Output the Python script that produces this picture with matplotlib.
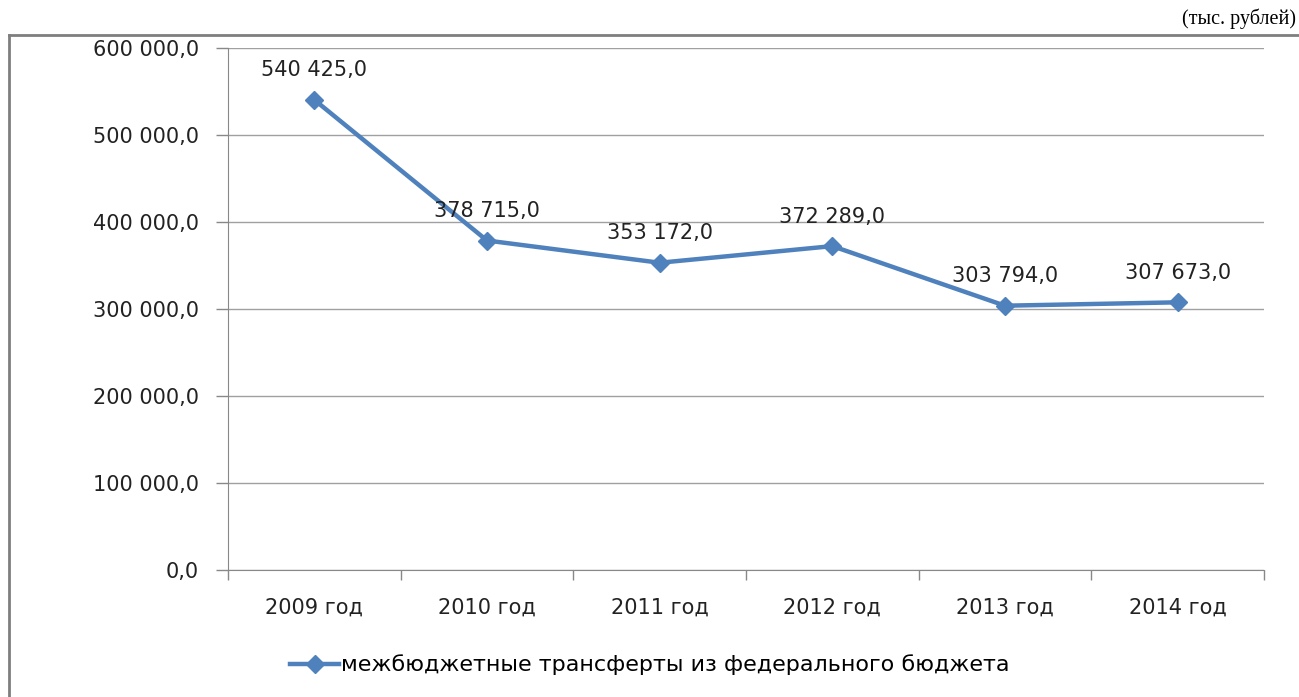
import matplotlib
matplotlib.use("Agg")
import matplotlib.pyplot as plt
from matplotlib.lines import Line2D
from matplotlib.ticker import FuncFormatter, FixedLocator

categories = ["2009 год", "2010 год", "2011 год", "2012 год", "2013 год", "2014 год"]
values = [540425.0, 378715.0, 353172.0, 372289.0, 303794.0, 307673.0]
series_name = "межбюджетные трансферты из федерального бюджета"
unit_label = "(тыс. рублей)"

color = "#4F81BD"
font = "DejaVu Sans"
fs = 15

def fmt(v, pos=None):
    s = f"{v:,.1f}".replace(",", " ").replace(".", ",")
    return s

fig = plt.figure(figsize=(12.99, 6.97), dpi=100)
ax = fig.add_axes([228/1299, 1-570/697, (1264-228)/1299, (570-48)/697])

x = list(range(len(categories)))
ax.plot(x, values, color=color, lw=3.2, marker="D", markersize=9, zorder=3, clip_on=False)
for xi, v in zip(x, values):
    ax.annotate(fmt(v), (xi, v), xytext=(0, 14), textcoords="offset points",
                ha="center", va="bottom", fontsize=fs, family=font, color="#222222")

ax.set_xlim(-0.5, len(categories) - 0.5)
ax.set_ylim(0, 600000)
ax.yaxis.set_major_locator(FixedLocator([i * 100000 for i in range(7)]))
ax.yaxis.set_major_formatter(FuncFormatter(fmt))
ax.set_xticks(x)
ax.set_xticklabels(categories)
ax.set_xticks([i - 0.5 for i in range(len(categories) + 1)], minor=True)
ax.tick_params(axis="x", which="major", length=0, pad=20, labelsize=fs)
ax.tick_params(axis="x", which="minor", length=7, color="#888888", width=1)
ax.tick_params(axis="y", length=9, color="#888888", width=1, pad=12, labelsize=fs)
for lab in ax.get_xticklabels() + ax.get_yticklabels():
    lab.set_family(font)
    lab.set_color("#222222")
ax.grid(axis="y", color="#a0a0a0", lw=1)
ax.set_axisbelow(True)
for s in ["top", "right"]:
    ax.spines[s].set_visible(False)
ax.spines["left"].set_color("#888888")
ax.spines["bottom"].set_color("#888888")

handle = Line2D([], [], color=color, lw=3.2, marker="D", markersize=9)
fig.legend([handle], [series_name], loc="center", bbox_to_anchor=(650/1299, 1-665/697),
           frameon=False, prop={"family": font, "size": 16}, handlelength=2.2,
           handletextpad=0.1)

# border
fig.add_artist(Line2D([9/1299, 1.0], [1-35/697, 1-35/697], color="#7f7f7f", lw=2))
fig.add_artist(Line2D([9/1299, 9/1299], [1-35/697, 0], color="#7f7f7f", lw=2))
fig.text(1296/1299, 1-19/697, unit_label, ha="right", va="center",
         family="Liberation Serif", fontsize=14.5, color="#000000")

fig.savefig("out.png", dpi=100)
